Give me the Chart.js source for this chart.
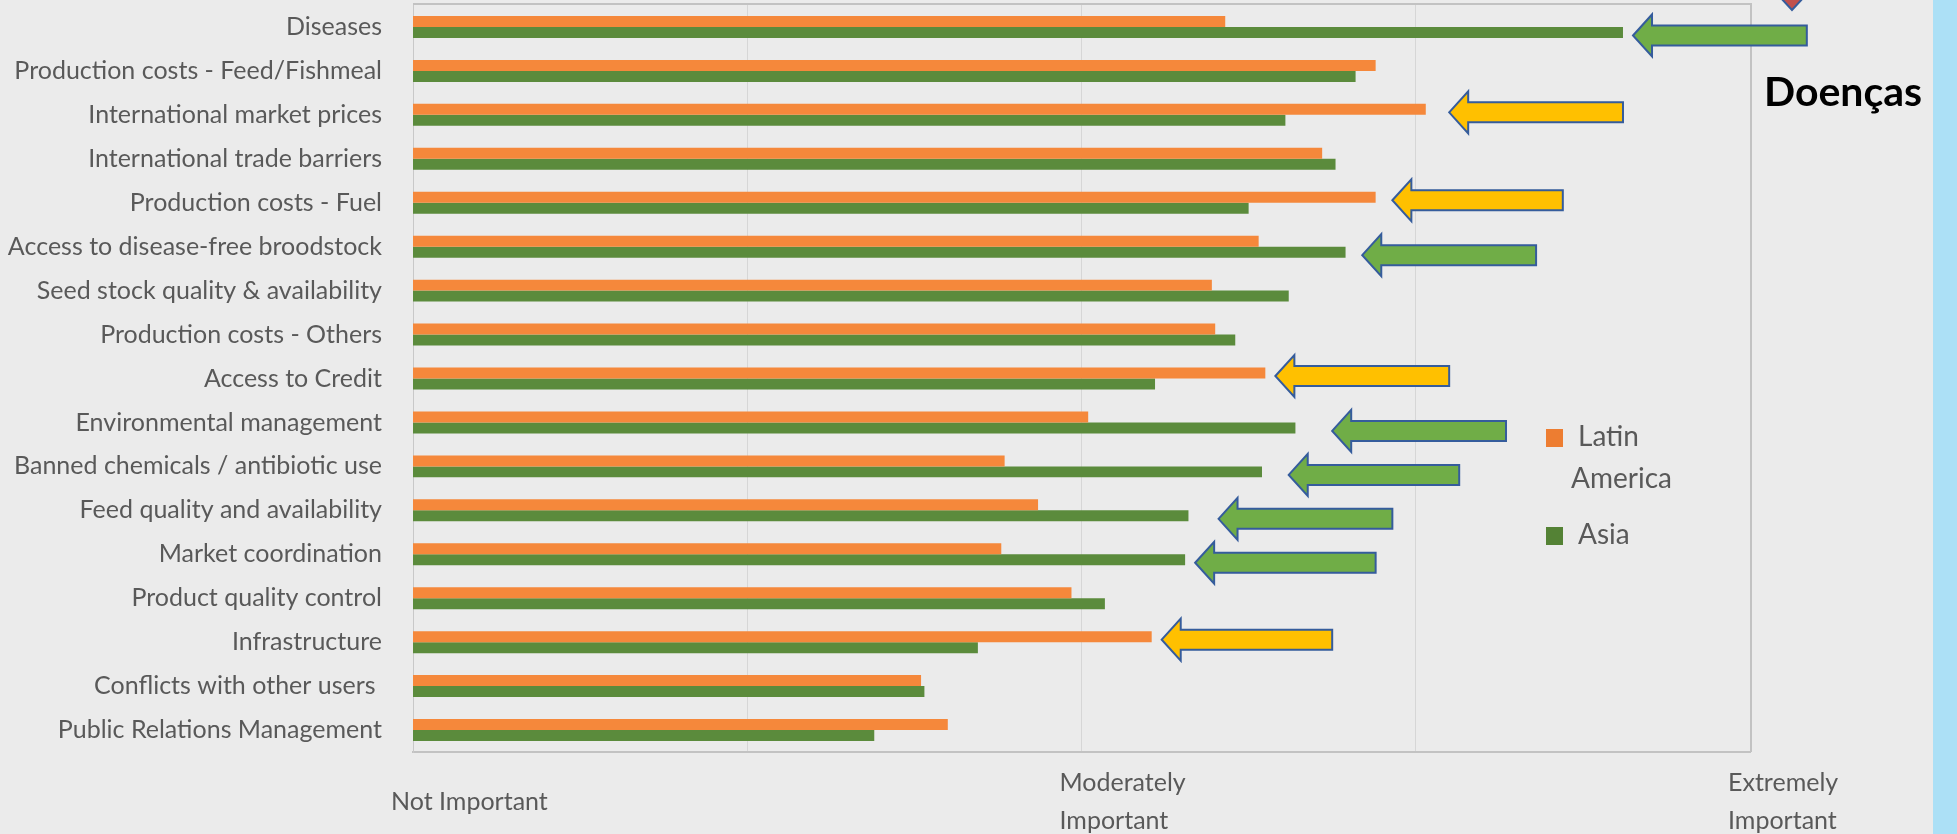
<!DOCTYPE html>
<html>
<head>
<meta charset="utf-8">
<script src="https://cdn.jsdelivr.net/npm/chart.js@4/dist/chart.umd.min.js"></script>
<style>
  html, body { margin: 0; padding: 0; background: #ebebeb; width: 1957px; height: 834px; overflow: hidden; }
  #wrap { position: absolute; left: 0; top: 0; width: 1957px; height: 834px; }
  #strip { position: absolute; left: 1933px; top: 0; width: 24px; height: 834px; background: #ace0f6; }
  canvas { position: absolute; left: 0; top: 0; }
</style>
</head>
<body>
<div id="wrap">
  <div id="strip"></div>
  <canvas id="c" width="1957" height="834"></canvas>
</div>
<script>
// ---- data ----
const categories = [
  'Diseases',
  'Production costs - Feed/Fishmeal',
  'International market prices',
  'International trade barriers',
  'Production costs - Fuel',
  'Access to disease-free broodstock',
  'Seed stock quality & availability',
  'Production costs - Others',
  'Access to Credit',
  'Environmental management',
  'Banned chemicals / antibiotic use',
  'Feed quality and availability',
  'Market coordination',
  'Product quality control',
  'Infrastructure',
  'Conflicts with other users ',
  'Public Relations Management'
];
const latinAmerica = [3.43, 3.88, 4.03, 3.72, 3.88, 3.53, 3.39, 3.40, 3.55, 3.02, 2.77, 2.87, 2.76, 2.97, 3.21, 2.52, 2.60];
const asia         = [4.62, 3.82, 3.61, 3.76, 3.50, 3.79, 3.62, 3.46, 3.22, 3.64, 3.54, 3.32, 3.31, 3.07, 2.69, 2.53, 2.38];
const seriesNames = ['Latin America', 'Asia'];
const xTickLabels = ['Not Important', '', ['Moderately', 'Important'], '', ['Extremely', 'Important']];
const scaleMin = 1;
const scaleMax = 5;

// highlight arrows (annotation): category, series it points at, tip value, tail value
const arrowCategories = ['Diseases', 'International market prices', 'Production costs - Fuel',
  'Access to disease-free broodstock', 'Access to Credit', 'Environmental management',
  'Banned chemicals / antibiotic use', 'Feed quality and availability', 'Market coordination', 'Infrastructure'];
const arrowSeries = ['Asia', 'Latin America', 'Latin America', 'Asia', 'Latin America', 'Asia', 'Asia', 'Asia', 'Asia', 'Latin America'];
const arrowTips  = [4.65, 4.10, 3.93, 3.84, 3.58, 3.75, 3.62, 3.41, 3.34, 3.24];
const arrowTails = [5.17, 4.62, 4.44, 4.36, 4.10, 4.27, 4.13, 3.93, 3.88, 3.75];
const calloutText = 'Doenças';

// ---- styles ----
const ORANGE = '#f5883b';
const GREEN = '#5b8b3c';
const LEGEND_ORANGE = '#ed7d31';
const LEGEND_GREEN = '#548235';
const TEXT = '#595959';
const FONT = 'Lato, "Open Sans", sans-serif';

const overlayPlugin = {
  id: 'overlay',
  beforeDatasetsDraw(chart) {
    const { ctx, chartArea } = chart;
    ctx.save();
    ctx.strokeStyle = '#c2c2c2';
    ctx.lineWidth = 2;
    ctx.beginPath();
    ctx.moveTo(chartArea.left, chartArea.top - 1);
    ctx.lineTo(chartArea.right + 1, chartArea.top - 1);
    ctx.lineTo(chartArea.right + 1, chartArea.bottom);
    ctx.stroke();
    ctx.restore();
  },
  afterDraw(chart) {
    const { ctx } = chart;
    const xs = chart.scales.x;
    ctx.save();
    // arrows
    for (let i = 0; i < arrowCategories.length; i++) {
      const ci = categories.indexOf(arrowCategories[i]);
      const di = seriesNames.indexOf(arrowSeries[i]);
      const bar = chart.getDatasetMeta(di).data[ci];
      const yc = bar.y + 3;
      const xt = xs.getPixelForValue(arrowTips[i]);
      const xe = xs.getPixelForValue(arrowTails[i]);
      const hl = 19, hh = 21, sh = 10;
      ctx.beginPath();
      ctx.moveTo(xt, yc);
      ctx.lineTo(xt + hl, yc - hh);
      ctx.lineTo(xt + hl, yc - sh);
      ctx.lineTo(xe, yc - sh);
      ctx.lineTo(xe, yc + sh);
      ctx.lineTo(xt + hl, yc + sh);
      ctx.lineTo(xt + hl, yc + hh);
      ctx.closePath();
      ctx.fillStyle = di === 1 ? '#70ad47' : '#ffc000';
      ctx.fill();
      ctx.lineWidth = 2;
      ctx.strokeStyle = '#355c9c';
      ctx.stroke();
    }
    // legend
    const legendColors = [LEGEND_ORANGE, LEGEND_GREEN];
    ctx.font = '28px ' + FONT;
    ctx.textBaseline = 'middle';
    ctx.textAlign = 'left';
    ctx.fillStyle = legendColors[0];
    ctx.fillRect(1546, 429, 17, 18);
    ctx.fillStyle = legendColors[1];
    ctx.fillRect(1546, 527, 17, 18);
    ctx.fillStyle = TEXT;
    const w = seriesNames[0].split(' ');
    ctx.fillText(w[0], 1578, 437);
    ctx.fillText(w[1], 1571, 479);
    ctx.fillText(seriesNames[1], 1578, 535);
    // callout
    ctx.font = 'bold 41px ' + FONT;
    ctx.fillStyle = '#000000';
    ctx.textBaseline = 'alphabetic';
    ctx.fillText(calloutText, 1764, 106);
    // red marker tip at top
    ctx.beginPath();
    ctx.moveTo(1779, -4);
    ctx.lineTo(1805, -4);
    ctx.lineTo(1792, 10);
    ctx.closePath();
    ctx.fillStyle = '#c0504d';
    ctx.fill();
    ctx.strokeStyle = '#355c9c';
    ctx.lineWidth = 2;
    ctx.stroke();
    ctx.restore();
  }
};

new Chart(document.getElementById('c'), {
  type: 'bar',
  data: {
    labels: categories,
    datasets: [
      { label: seriesNames[0], data: latinAmerica, backgroundColor: ORANGE, borderWidth: 0 },
      { label: seriesNames[1], data: asia, backgroundColor: GREEN, borderWidth: 0 }
    ]
  },
  options: {
    indexAxis: 'y',
    responsive: false,
    animation: false,
    devicePixelRatio: 1,
    layout: { padding: { left: 0, right: 207, top: 5, bottom: 0 } },
    datasets: { bar: { categoryPercentage: 0.5, barPercentage: 1.0 } },
    plugins: { legend: { display: false }, tooltip: { enabled: false } },
    scales: {
      x: {
        type: 'linear',
        min: scaleMin,
        max: scaleMax,
        afterFit: (s) => { s.height = 82; s.paddingLeft = 0; s.paddingRight = 0; },
        grid: { color: '#d6d6d6', lineWidth: 1, drawTicks: false },
        border: { display: true, color: '#c2c2c2', width: 2 },
        ticks: {
          stepSize: 1,
          autoSkip: false,
          maxRotation: 0,
          align: 'start',
          crossAlign: 'center',
          labelOffset: -22,
          padding: 31,
          color: TEXT,
          font: { family: FONT, size: 25, lineHeight: 1.52 },
          callback: (v) => xTickLabels[Math.round(v) - scaleMin]
        }
      },
      y: {
        type: 'category',
        afterFit: (s) => { s.width = 413; s.paddingTop = 0; s.paddingBottom = 0; },
        grid: { display: false, drawTicks: false },
        border: { display: true, color: '#c8c8c8', width: 1 },
        ticks: {
          padding: 31,
          color: TEXT,
          autoSkip: false,
          font: { family: FONT, size: 25 }
        }
      }
    }
  },
  plugins: [overlayPlugin]
});
</script>
</body>
</html>
